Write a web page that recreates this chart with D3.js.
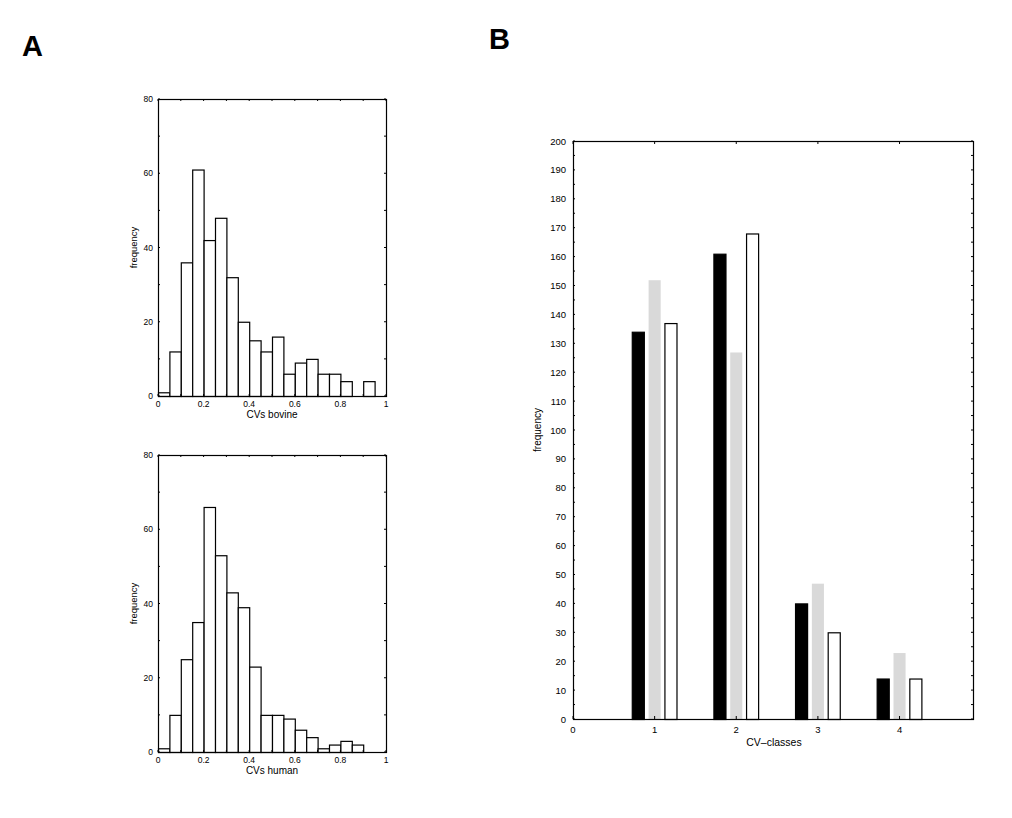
<!DOCTYPE html>
<html>
<head>
<meta charset="utf-8">
<script src="https://cdn.jsdelivr.net/npm/d3@7"></script>
<style>
  html, body { margin: 0; padding: 0; background: #fff; }
  svg { display: block; }
  text { font-family: "Liberation Sans", Arial, sans-serif; fill: #000; }
</style>
</head>
<body>
<svg id="chart" width="1012" height="818"></svg>
<script>
// ---------- DATA ----------
const binEdges = [0, 0.05, 0.1, 0.15, 0.2, 0.25, 0.3, 0.35, 0.4, 0.45, 0.5, 0.55, 0.6, 0.65, 0.7, 0.75, 0.8, 0.85, 0.9, 0.95, 1.0];
const bovineCounts = [1, 12, 36, 61, 42, 48, 32, 20, 15, 12, 16, 6, 9, 10, 6, 6, 4, 0, 4, 0];
const humanCounts  = [1, 10, 25, 35, 66, 53, 43, 39, 23, 10, 10, 9, 6, 4, 1, 2, 3, 2, 0, 0];
const histXTicks = [0, 0.2, 0.4, 0.6, 0.8, 1];
const histYTicks = [0, 20, 40, 60, 80];

const cvClasses = [1, 2, 3, 4];
const seriesBlack = [134, 161, 40, 14];
const seriesGray  = [152, 127, 47, 23];
const seriesWhite = [137, 168, 30, 14];
const barXTicks = [0, 1, 2, 3, 4];
const barYTicks = d3.range(0, 201, 10);

// ---------- DRAW ----------
const svg = d3.select("#chart");

svg.append("text").attr("x", 22).attr("y", 56)
  .attr("font-size", 29).attr("font-weight", "bold").text("A");
svg.append("text").attr("x", 489).attr("y", 49)
  .attr("font-size", 29).attr("font-weight", "bold").text("B");

function innerTicks(g, scale, vals, orient, x0, x1, y0, y1, len) {
  vals.forEach(v => {
    const p = scale(v);
    if (orient === "x") {
      g.append("line").attr("x1", p).attr("x2", p).attr("y1", y1).attr("y2", y1 - len).attr("stroke", "#000");
      g.append("line").attr("x1", p).attr("x2", p).attr("y1", y0).attr("y2", y0 + len).attr("stroke", "#000");
    } else {
      g.append("line").attr("y1", p).attr("y2", p).attr("x1", x0).attr("x2", x0 + len).attr("stroke", "#000");
      g.append("line").attr("y1", p).attr("y2", p).attr("x1", x1).attr("x2", x1 - len).attr("stroke", "#000");
    }
  });
}

function histogram(counts, box, xTitle) {
  const g = svg.append("g");
  const x = d3.scaleLinear().domain([0, 1]).range([box.l, box.r]);
  const y = d3.scaleLinear().domain([0, 80]).range([box.b, box.t]);

  g.selectAll("rect.bar").data(counts.map((c, i) => ({ c, x0: binEdges[i], x1: binEdges[i + 1] })).filter(d => d.c > 0))
    .enter().append("rect")
    .attr("x", d => x(d.x0) + 0.5).attr("width", d => x(d.x1) - x(d.x0))
    .attr("y", d => y(d.c) + 0.5).attr("height", d => y(0) - y(d.c))
    .attr("fill", "#fff").attr("stroke", "#000").attr("stroke-width", 1.2);

  g.append("rect").attr("x", box.l + 0.5).attr("y", box.t + 0.5)
    .attr("width", box.r - box.l).attr("height", box.b - box.t)
    .attr("fill", "none").attr("stroke", "#000").attr("stroke-width", 1.2);

  innerTicks(g, x, d3.range(0, 1.0001, 0.1), "x", box.l, box.r, box.t, box.b, 2);
  innerTicks(g, y, d3.range(0, 80.001, 10), "y", box.l, box.r, box.t, box.b, 2);

  histXTicks.forEach(v => {
    g.append("text").attr("x", x(v)).attr("y", box.b + 11)
      .attr("text-anchor", "middle").attr("font-size", 8.5).text(d3.format("~g")(v));
  });
  histYTicks.forEach(v => {
    g.append("text").attr("x", box.l - 5).attr("y", y(v) + 3)
      .attr("text-anchor", "end").attr("font-size", 8.5).text(v);
  });
  g.append("text").attr("x", (box.l + box.r) / 2).attr("y", box.b + 22)
    .attr("text-anchor", "middle").attr("font-size", 10).text(xTitle);
  g.append("text").attr("transform", `translate(${box.l - 21},${(box.t + box.b) / 2}) rotate(-90)`)
    .attr("text-anchor", "middle").attr("font-size", 9.5).text("frequency");
}

histogram(bovineCounts, { l: 158, r: 386, t: 99, b: 396 }, "CVs bovine");
histogram(humanCounts,  { l: 158, r: 386, t: 455, b: 752 }, "CVs human");

// ---------- Bar chart B ----------
(function () {
  const box = { l: 573, r: 973, t: 141, b: 719 };
  const g = svg.append("g");
  const x = d3.scaleLinear().domain([0, 4.9]).range([box.l, box.r]);
  const y = d3.scaleLinear().domain([0, 200]).range([box.b, box.t]);
  const bw = 0.16, off = 0.2;
  const series = [
    { vals: seriesBlack, dx: -off, fill: "#000", stroke: "#000" },
    { vals: seriesGray,  dx: 0,    fill: "#d9d9d9", stroke: "none" },
    { vals: seriesWhite, dx: off,  fill: "#fff", stroke: "#000" }
  ];
  series.forEach(s => {
    g.selectAll(null).data(cvClasses.map((c, i) => ({ c, v: s.vals[i] })))
      .enter().append("rect")
      .attr("x", d => x(d.c + s.dx - bw / 2) + 0.5)
      .attr("width", x(bw) - x(0) - 1)
      .attr("y", d => y(d.v) + 0.5)
      .attr("height", d => y(0) - y(d.v))
      .attr("fill", s.fill).attr("stroke", s.stroke).attr("stroke-width", 1.2);
  });

  g.append("rect").attr("x", box.l + 0.5).attr("y", box.t + 0.5)
    .attr("width", box.r - box.l).attr("height", box.b - box.t)
    .attr("fill", "none").attr("stroke", "#000").attr("stroke-width", 1.2);

  innerTicks(g, x, barXTicks, "x", box.l, box.r, box.t, box.b, 3);
  innerTicks(g, y, d3.range(0, 200.001, 5), "y", box.l, box.r, box.t, box.b, 2);

  barXTicks.forEach(v => {
    g.append("text").attr("x", x(v)).attr("y", box.b + 14)
      .attr("text-anchor", "middle").attr("font-size", 9.5).text(v);
  });
  barYTicks.forEach(v => {
    g.append("text").attr("x", box.l - 7).attr("y", y(v) + 3.5)
      .attr("text-anchor", "end").attr("font-size", 9.5).text(v);
  });
  g.append("text").attr("x", 774).attr("y", box.b + 27)
    .attr("text-anchor", "middle").attr("font-size", 10.5).text("CV–classes");
  g.append("text").attr("transform", `translate(${box.l - 32},${(box.t + box.b) / 2 + 0}) rotate(-90)`)
    .attr("text-anchor", "middle").attr("font-size", 10).text("frequency");
})();
</script>
</body>
</html>
